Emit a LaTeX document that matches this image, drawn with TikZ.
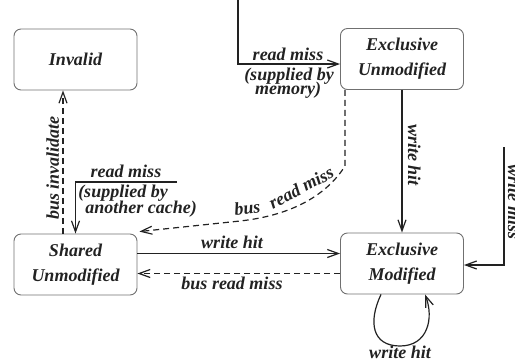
\documentclass[tikz,border=0pt]{standalone}
\usepackage{fontspec}
\setmainfont{Liberation Serif}
\usetikzlibrary{arrows.meta,calc}
\definecolor{ink}{HTML}{222222}
\definecolor{boxgray}{HTML}{707070}
\newcommand\stlabelfont{\fontsize{18}{25}\selectfont\bfseries\itshape}
\begin{document}
\begin{tikzpicture}[x=1pt,y=-1pt,
  state/.style={draw=boxgray, line width=0.9pt, rounded corners=7pt,
    minimum width=123pt, minimum height=61pt, inner sep=0pt,
    align=center, font=\stlabelfont, text=ink},
  lbl/.style={inner sep=0pt, anchor=base, font=\stlabelfont, text=ink},
  edge/.style={draw=ink, line width=1.2pt,
    -{Straight Barb[length=11pt,width=8pt]}},
  busedge/.style={edge, dash pattern=on 6pt off 4pt},
]
\clip (0,0) rectangle (515,360);

% states
\node[state] (inv) at (75.5,59.5) {Invalid};
\node[state] (eu)  at (402,59)    {Exclusive\\Unmodified};
\node[state] (su)  at (75.5,264.5) {Shared\\Unmodified};
\node[state] (em)  at (402,263.5) {Exclusive\\Modified};

% free ends of incoming transitions
\coordinate (memsrc)   at (238,0);
\coordinate (cachesrc) at (177,182);
\coordinate (wmsrc)    at (504,147);

% read miss, supplied by memory
\draw[edge] (memsrc) |- ([yshift=-5pt]eu.west);
\node[lbl] (rm1) at (288,60) {read miss};
\node[lbl] (rm2) at (289,80) {(supplied by};
\node[lbl] (rm3) at (288,94) {memory)};

% read miss, supplied by another cache
\draw[edge] (cachesrc) -| (su.north);
\node[lbl] (rc1) at (126,177) {read miss};
\node[lbl] (rc2) at (123,197) {(supplied by};
\node[lbl] (rc3) at (141,213) {another cache)};

% bus invalidate
\draw[busedge] ([xshift=-12.5pt]su.north) -- ([xshift=-12.5pt]inv.south);
\node[lbl, rotate=90] (bi) at (59,168) {bus invalidate};

% write hit from exclusive unmodified
\draw[edge] (eu.south) -- (em.north);
\node[lbl, rotate=-90] (wh1) at (408,155) {write hit};

% write miss
\draw[edge] (wmsrc) |- ([yshift=-1.5pt]em.east);
\node[lbl, rotate=-90] (wm) at (508,202) {write miss};

% bus read miss from exclusive unmodified
\draw[busedge] ([xshift=5pt]eu.south west) -- ++(0,76)
  .. controls (328,193) and (295,215) .. (240,221)
  -- ([xshift=2pt,yshift=2pt]su.north east);
\node[lbl, rotate=7]  (br1) at (248,214) {bus};
\node[lbl, rotate=28] (br2) at (304,193) {read miss};

% shared <-> exclusive modified
\draw[edge] ([yshift=11pt]su.east) -- ([yshift=11pt]su.east -| em.west);
\node[lbl] (wh2) at (232,248) {write hit};
\draw[busedge] ([yshift=-10pt]em.west) -- ([yshift=-10pt]em.west -| su.east);
\node[lbl] (br3) at (232,289) {bus read miss};

% write hit self loop
\draw[edge] ([xshift=-21pt]em.south)
  .. controls (368,322) and (372,346) .. (400,346)
  .. controls (428,346) and (434,318) .. ([xshift=23pt]em.south);
\node[lbl] (wh3) at (400,358) {write hit};
\end{tikzpicture}
\end{document}
